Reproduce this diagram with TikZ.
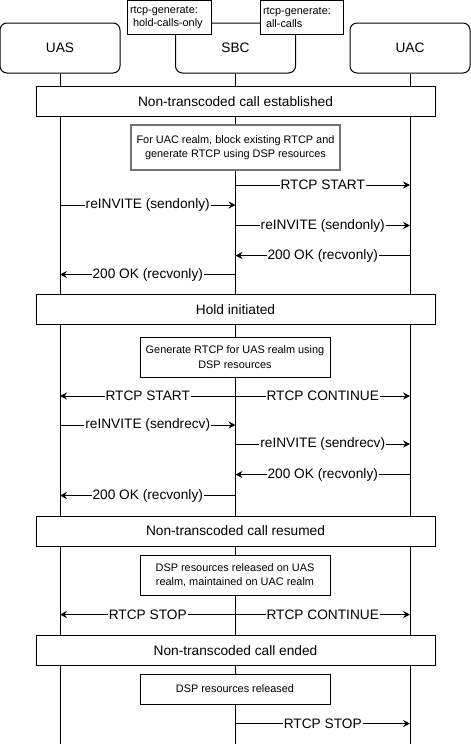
\documentclass[tikz,border=0pt]{standalone}
\usepackage{fontspec}
\setmainfont{Liberation Sans}
\usetikzlibrary{arrows.meta}
\tikzset{
  actor/.style={draw, line width=1pt, rounded corners=7pt, fill=white, minimum width=120pt, minimum height=50pt, inner sep=0pt, font=\fontsize{13.7}{16}\selectfont},
  annot/.style={draw, line width=1pt, fill=white, minimum width=84pt, minimum height=34pt, inner sep=0pt, align=left, font=\fontsize{10.9}{13.3}\selectfont, text width=78pt},
  banner/.style={draw, line width=1pt, fill=white, minimum width=399pt, minimum height=30pt, inner sep=0pt, font=\fontsize{13.7}{16}\selectfont},
  notebox/.style={draw, line width=1pt, fill=white, minimum width=190pt, inner sep=0pt, align=center, font=\fontsize{10.9}{14.5}\selectfont},
  lifeline/.style={line width=1pt},
  msg/.style={line width=1pt, -{Stealth[length=7pt,width=7pt,inset=2.5pt]}},
  lbl/.style={midway, fill=white, inner xsep=1pt, inner ysep=1pt, font=\fontsize{13.7}{16}\selectfont}
}
\begin{document}
\begin{tikzpicture}[x=1pt,y=-1pt]
\useasboundingbox (0,0) rectangle (471,747);
% actors
\node[actor] (uas) at (60,48) {UAS};
\node[actor] (sbc) at (235.5,48) {SBC};
\node[actor] (uac) at (410,48) {UAC};
% annotations
\node[annot] (ann1) at (169,17.5) {rtcp-generate:\\\hspace*{3pt}hold-calls-only};
\node[annot, minimum width=83pt, text width=77pt] (ann2) at (301.5,17.5) {rtcp-generate:\\\hspace*{3pt}all-calls};
% lifeline ends
\coordinate (uasend) at (60,744);
\coordinate (sbcend) at (235.5,744);
\coordinate (uacend) at (410,744);
\draw[lifeline] (uas.south) -- (uasend);
\draw[lifeline] (sbc.south) -- (sbcend);
\draw[lifeline] (uac.south) -- (uacend);
% banners
\node[banner] (b1) at (235.5,101.5) {Non-transcoded call established};
\node[banner] (b2) at (235.5,309.3) {Hold initiated};
\node[banner] (b3) at (235.5,531) {Non-transcoded call resumed};
\node[banner] (b4) at (235.5,650.3) {Non-transcoded call ended};
% notes
\node[notebox, draw=black!55, line width=1.8pt, minimum width=209pt, minimum height=45pt] (n1) at (235.5,147.5) {For UAC realm, block existing RTCP and\\generate RTCP using DSP resources};
\node[notebox, minimum height=40pt] (n2) at (235,357) {Generate RTCP for UAS realm using\\DSP resources};
\node[notebox, minimum height=40pt] (n3) at (235,575) {DSP resources released on UAS\\realm, maintained on UAC realm};
\node[notebox, minimum height=30pt] (n4) at (235,689) {DSP resources released};
% message end points
\coordinate (s1) at (235.5,185);  \coordinate (c1) at (410,185);
\coordinate (a2) at (60,205);     \coordinate (s2) at (235.5,205);
\coordinate (s3) at (235.5,225.5);\coordinate (c3) at (410,225.5);
\coordinate (c4) at (410,255.5);  \coordinate (s4) at (235.5,255.5);
\coordinate (s5) at (235.5,274.5);\coordinate (a5) at (60,274.5);
\coordinate (s6) at (235.5,396);  \coordinate (a6) at (60,396); \coordinate (c6) at (410,396);
\coordinate (a7) at (60,425);     \coordinate (s7) at (235.5,425);
\coordinate (s8) at (235.5,444);  \coordinate (c8) at (410,444);
\coordinate (c9) at (410,474.5);  \coordinate (s9) at (235.5,474.5);
\coordinate (s10) at (235.5,495.5);\coordinate (a10) at (60,495.5);
\coordinate (s11) at (235.5,614.5);\coordinate (a11) at (60,614.5); \coordinate (c11) at (410,614.5);
\coordinate (s12) at (235.5,723.5);\coordinate (c12) at (410,723.5);
% messages
\draw[msg] (s1) -- (c1) node[lbl] {RTCP START};
\draw[msg] (a2) -- (s2) node[lbl] {reINVITE (sendonly)};
\draw[msg] (s3) -- (c3) node[lbl] {reINVITE (sendonly)};
\draw[msg] (c4) -- (s4) node[lbl] {200 OK (recvonly)};
\draw[msg] (s5) -- (a5) node[lbl] {200 OK (recvonly)};
\draw[msg] (s6) -- (a6) node[lbl] {RTCP START};
\draw[msg] (s6) -- (c6) node[lbl] {RTCP CONTINUE};
\draw[msg] (a7) -- (s7) node[lbl] {reINVITE (sendrecv)};
\draw[msg] (s8) -- (c8) node[lbl] {reINVITE (sendrecv)};
\draw[msg] (c9) -- (s9) node[lbl] {200 OK (recvonly)};
\draw[msg] (s10) -- (a10) node[lbl] {200 OK (recvonly)};
\draw[msg] (s11) -- (a11) node[lbl] {RTCP STOP};
\draw[msg] (s11) -- (c11) node[lbl] {RTCP CONTINUE};
\draw[msg] (s12) -- (c12) node[lbl] {RTCP STOP};
\end{tikzpicture}
\end{document}
